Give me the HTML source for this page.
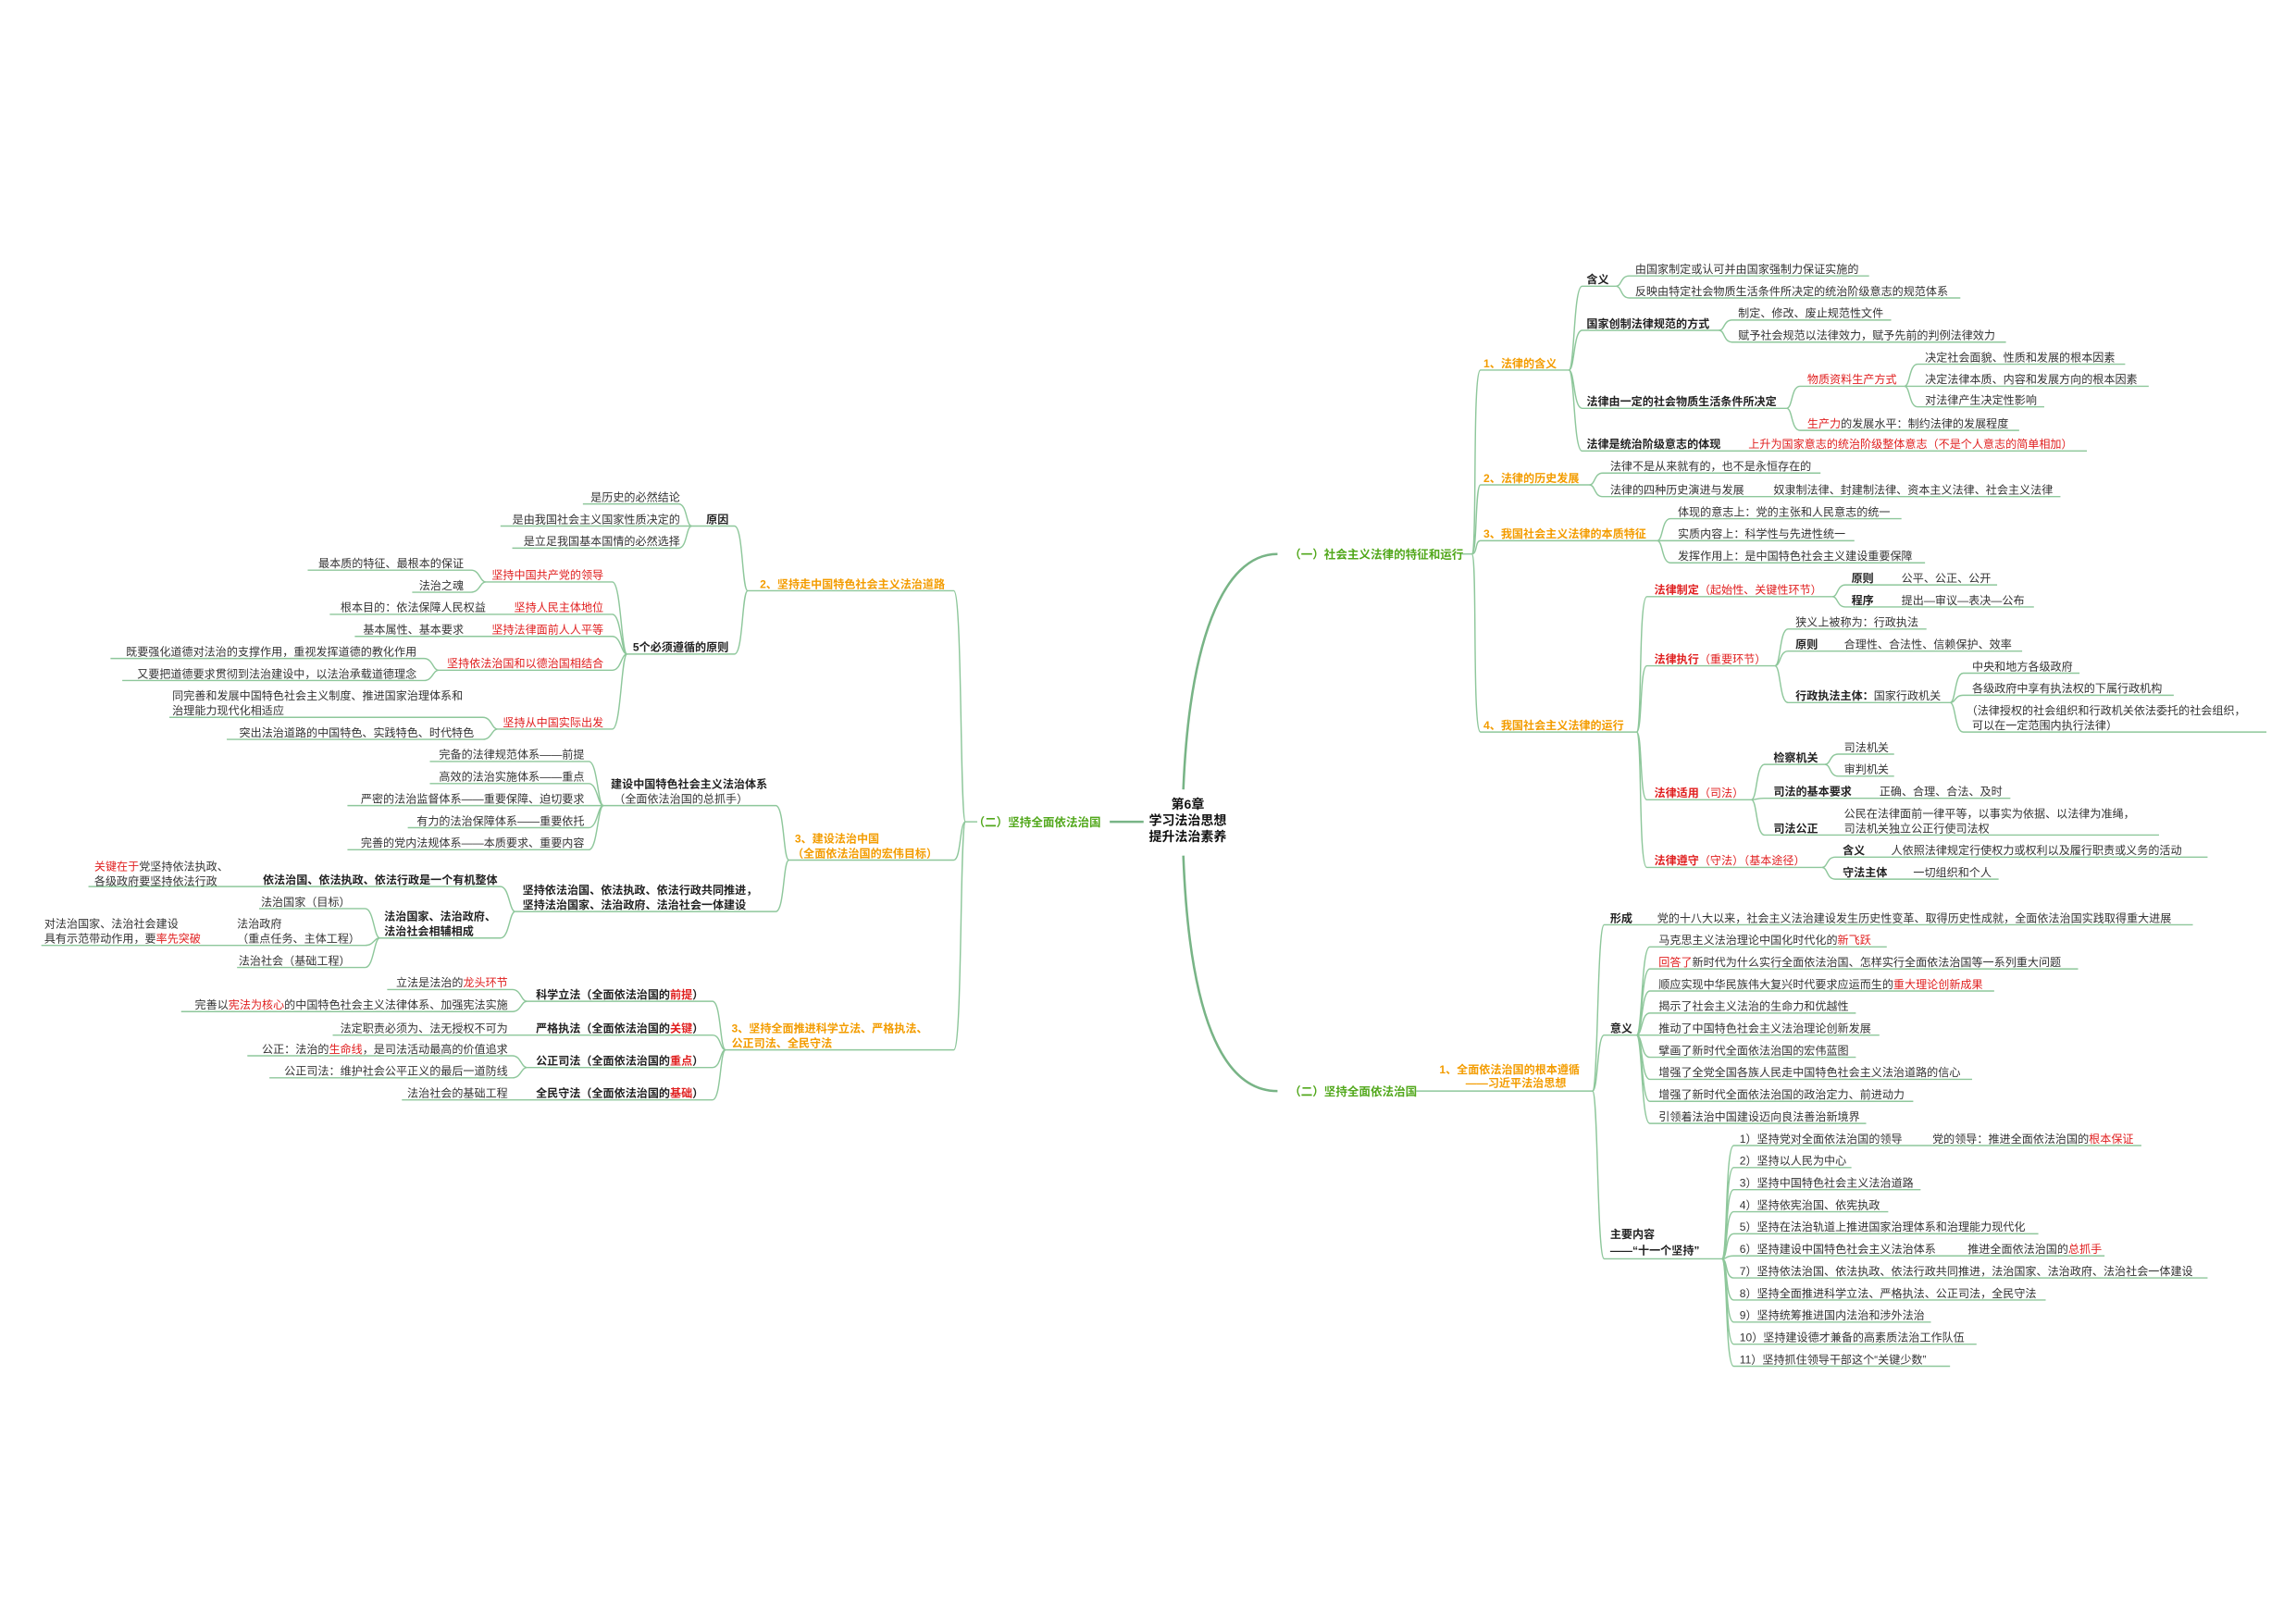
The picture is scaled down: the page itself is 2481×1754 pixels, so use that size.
<!DOCTYPE html>
<html><head><meta charset="utf-8"><style>
html,body{margin:0;padding:0;background:#fff;}
svg{display:block;}
text{font-family:"Liberation Sans","Noto Sans CJK SC",sans-serif;font-size:7.6px;fill:#333;}
.b{font-weight:bold;fill:#222;}
.r{fill:#e02020;}
.rb{fill:#e02020;font-weight:bold;}
.o{fill:#f39c00;font-weight:bold;}
.g{fill:#52a81c;font-weight:bold;font-size:7.9px;}
.c{font-weight:bold;fill:#111;font-size:8.8px;}
path{fill:none;stroke:#8ec79b;stroke-width:0.9;}
.t{stroke:#78b486;stroke-width:1.6;}
</style></head><body>
<svg width="2481" height="1754" viewBox="0 0 1560 1103" xmlns="http://www.w3.org/2000/svg">
<g transform="translate(0,-1.5)">
<!-- center -->
<text class="c" x="807" y="551" text-anchor="middle">第6章</text>
<text class="c" x="807" y="562" text-anchor="middle">学习法治思想</text>
<text class="c" x="807" y="573" text-anchor="middle">提升法治素养</text>
<path class="t" d="M804 538 C808 440 830 378 868 378"/>
<path class="t" d="M804 583 C808 690 830 743 868 743"/>
<path class="t" d="M754 560 H777"/>

<!-- ===== RIGHT (一) ===== -->
<text class="g" x="876" y="381">（一）社会主义法律的特征和运行</text>
<path d="M993 378 H1000"/>
<path d="M1000 378 C1004 378 1000 253 1006 253 H1066"/>
<path d="M1000 378 C1004 378 1002 331 1006 331 H1080"/>
<path d="M1000 378 C1004 378 1002 369 1006 369 H1126"/>
<path d="M1000 378 C1004 378 1000 499 1006 499 H1112"/>
<text class="o" x="1008" y="251">1、法律的含义</text>
<text class="o" x="1008" y="329">2、法律的历史发展</text>
<text class="o" x="1008" y="367">3、我国社会主义法律的本质特征</text>
<text class="o" x="1008" y="497">4、我国社会主义法律的运行</text>

<path d="M1066 253 C1070 253 1069 196 1075 196 H1098"/>
<path d="M1066 253 C1070 253 1069 226 1075 226 H1168"/>
<path d="M1066 253 C1070 253 1069 279 1075 279 H1214"/>
<path d="M1066 253 C1070 253 1069 308 1075 308 H1418"/>
<text class="b" x="1078" y="194">含义</text>
<path d="M1098 196 C1102 196 1101 189 1107 189 H1270"/>
<path d="M1098 196 C1102 196 1101 204 1107 204 H1332"/>
<text x="1111" y="187">由国家制定或认可并由国家强制力保证实施的</text>
<text x="1111" y="202">反映由特定社会物质生活条件所决定的统治阶级意志的规范体系</text>
<text class="b" x="1078" y="224">国家创制法律规范的方式</text>
<path d="M1168 226 C1172 226 1171 219 1177 219 H1285"/>
<path d="M1168 226 C1172 226 1171 234 1177 234 H1363"/>
<text x="1181" y="217">制定、修改、废止规范性文件</text>
<text x="1181" y="232">赋予社会规范以法律效力，赋予先前的判例法律效力</text>
<text class="b" x="1078" y="277">法律由一定的社会物质生活条件所决定</text>
<path d="M1214 279 C1218 279 1217 264 1223 264 H1294"/>
<path d="M1214 279 C1218 279 1217 294 1223 294 H1372"/>
<text class="r" x="1228" y="262">物质资料生产方式</text>
<text x="1228" y="292"><tspan class="r">生产力</tspan>的发展水平：制约法律的发展程度</text>
<path d="M1294 264 C1298 264 1297 249 1303 249 H1444"/>
<path d="M1294 264 C1298 264 1297 264 1303 264 H1460"/>
<path d="M1294 264 C1298 264 1297 278 1303 278 H1389"/>
<text x="1308" y="247">决定社会面貌、性质和发展的根本因素</text>
<text x="1308" y="262">决定法律本质、内容和发展方向的根本因素</text>
<text x="1308" y="276">对法律产生决定性影响</text>
<text class="b" x="1078" y="306">法律是统治阶级意志的体现</text>
<text class="r" x="1188" y="306">上升为国家意志的统治阶级整体意志（不是个人意志的简单相加）</text>

<path d="M1080 331 C1084 331 1083 323 1089 323 H1237"/>
<path d="M1080 331 C1084 331 1083 339 1089 339 H1400"/>
<text x="1094" y="321">法律不是从来就有的，也不是永恒存在的</text>
<text x="1094" y="337">法律的四种历史演进与发展</text>
<text x="1205" y="337">奴隶制法律、封建制法律、资本主义法律、社会主义法律</text>

<path d="M1126 369 C1130 369 1129 354 1135 354 H1292"/>
<path d="M1126 369 C1130 369 1129 369 1135 369 H1260"/>
<path d="M1126 369 C1130 369 1129 384 1135 384 H1308"/>
<text x="1140" y="352">体现的意志上：党的主张和人民意志的统一</text>
<text x="1140" y="367">实质内容上：科学性与先进性统一</text>
<text x="1140" y="382">发挥作用上：是中国特色社会主义建设重要保障</text>

<path d="M1112 499 C1116 499 1113 407 1119 407 H1245"/>
<path d="M1112 499 C1116 499 1114 454 1119 454 H1206"/>
<path d="M1112 499 C1116 499 1114 545 1119 545 H1190"/>
<path d="M1112 499 C1116 499 1113 591 1119 591 H1238"/>
<text class="r" x="1124" y="405"><tspan class="rb">法律制定</tspan>（起始性、关键性环节）</text>
<text class="r" x="1124" y="452"><tspan class="rb">法律执行</tspan>（重要环节）</text>
<text class="r" x="1124" y="543"><tspan class="rb">法律适用</tspan>（司法）</text>
<text class="r" x="1124" y="589"><tspan class="rb">法律遵守</tspan>（守法）（基本途径）</text>

<path d="M1245 407 C1249 407 1248 399 1254 399 H1357"/>
<path d="M1245 407 C1249 407 1248 414 1254 414 H1382"/>
<text class="b" x="1258" y="397">原则</text><text x="1292" y="397">公平、公正、公开</text>
<text class="b" x="1258" y="412">程序</text><text x="1292" y="412">提出—审议—表决—公布</text>

<path d="M1206 454 C1210 454 1209 429 1215 429 H1309"/>
<path d="M1206 454 C1210 454 1209 444 1215 444 H1374"/>
<path d="M1206 454 C1210 454 1209 479 1215 479 H1325"/>
<text x="1220" y="427">狭义上被称为：行政执法</text>
<text class="b" x="1220" y="442">原则</text><text x="1253" y="442">合理性、合法性、信赖保护、效率</text>
<text x="1220" y="477"><tspan class="b">行政执法主体：</tspan>国家行政机关</text>
<path d="M1325 479 C1329 479 1328 459 1334 459 H1413"/>
<path d="M1325 479 C1329 479 1328 474 1334 474 H1477"/>
<path d="M1325 479 C1329 479 1328 499 1334 499 H1540"/>
<text x="1340" y="457">中央和地方各级政府</text>
<text x="1340" y="472">各级政府中享有执法权的下属行政机构</text>
<text x="1336" y="487">（法律授权的社会组织和行政机关依法委托的社会组织，</text>
<text x="1340" y="497">可以在一定范围内执行法律）</text>

<path d="M1190 545 C1194 545 1193 521 1199 521 H1240"/>
<path d="M1190 545 C1194 545 1193 544 1199 544 H1366"/>
<path d="M1190 545 C1194 545 1193 569 1199 569 H1467"/>
<text class="b" x="1205" y="519">检察机关</text>
<path d="M1240 521 C1244 521 1243 514 1249 514 H1287"/>
<path d="M1240 521 C1244 521 1243 529 1249 529 H1287"/>
<text x="1253" y="512">司法机关</text>
<text x="1253" y="527">审判机关</text>
<text class="b" x="1205" y="542">司法的基本要求</text><text x="1277" y="542">正确、合理、合法、及时</text>
<text class="b" x="1205" y="567">司法公正</text>
<text x="1253" y="557">公民在法律面前一律平等，以事实为依据、以法律为准绳，</text>
<text x="1253" y="567">司法机关独立公正行使司法权</text>

<path d="M1238 591 C1242 591 1241 584 1247 584 H1500"/>
<path d="M1238 591 C1242 591 1241 599 1247 599 H1358"/>
<text class="b" x="1252" y="582">含义</text><text x="1285" y="582">人依照法律规定行使权力或权利以及履行职责或义务的活动</text>
<text class="b" x="1252" y="597">守法主体</text><text x="1300" y="597">一切组织和个人</text>

<!-- ===== RIGHT (二) ===== -->
<text class="g" x="876" y="746">（二）坚持全面依法治国</text>
<path d="M962 743 H1082"/>
<text class="o" x="978" y="731">1、全面依法治国的根本遵循</text>
<text class="o" x="1030" y="740" text-anchor="middle">——习近平法治思想</text>
<path d="M1082 743 C1086 743 1085 630 1090 630 H1490"/>
<path d="M1082 743 C1086 743 1085 705 1090 705 H1112"/>
<path d="M1082 743 C1086 743 1085 857 1090 857 H1170"/>
<text class="b" x="1094" y="628">形成</text>
<text x="1126" y="628">党的十八大以来，社会主义法治建设发生历史性变革、取得历史性成就，全面依法治国实践取得重大进展</text>
<text class="b" x="1094" y="703">意义</text>
<path d="M1112 705 C1116 705 1115 645 1121 645 H1282"/>
<path d="M1112 705 C1116 705 1115 660 1121 660 H1412"/>
<path d="M1112 705 C1116 705 1115 675 1121 675 H1355"/>
<path d="M1112 705 C1116 705 1115 690 1121 690 H1261"/>
<path d="M1112 705 C1116 705 1115 705 1121 705 H1277"/>
<path d="M1112 705 C1116 705 1115 720 1121 720 H1261"/>
<path d="M1112 705 C1116 705 1115 735 1121 735 H1340"/>
<path d="M1112 705 C1116 705 1115 750 1121 750 H1300"/>
<path d="M1112 705 C1116 705 1115 765 1121 765 H1268"/>
<text x="1127" y="643">马克思主义法治理论中国化时代化的<tspan class="r">新飞跃</tspan></text>
<text x="1127" y="658"><tspan class="r">回答了</tspan>新时代为什么实行全面依法治国、怎样实行全面依法治国等一系列重大问题</text>
<text x="1127" y="673">顺应实现中华民族伟大复兴时代要求应运而生的<tspan class="r">重大理论创新成果</tspan></text>
<text x="1127" y="688">揭示了社会主义法治的生命力和优越性</text>
<text x="1127" y="703">推动了中国特色社会主义法治理论创新发展</text>
<text x="1127" y="718">擘画了新时代全面依法治国的宏伟蓝图</text>
<text x="1127" y="733">增强了全党全国各族人民走中国特色社会主义法治道路的信心</text>
<text x="1127" y="748">增强了新时代全面依法治国的政治定力、前进动力</text>
<text x="1127" y="763">引领着法治中国建设迈向良法善治新境界</text>
<text class="b" x="1094" y="843">主要内容</text>
<text class="b" x="1094" y="854">——“十一个坚持”</text>
<path d="M1170 857 C1174 857 1172 780 1178 780 H1455"/>
<path d="M1170 857 C1174 857 1172 795 1178 795 H1258"/>
<path d="M1170 857 C1174 857 1172 810 1178 810 H1305"/>
<path d="M1170 857 C1174 857 1172 825 1178 825 H1283"/>
<path d="M1170 857 C1174 857 1172 840 1178 840 H1385"/>
<path d="M1170 857 C1174 857 1172 855 1178 855 H1430"/>
<path d="M1170 857 C1174 857 1172 870 1178 870 H1500"/>
<path d="M1170 857 C1174 857 1172 885 1178 885 H1390"/>
<path d="M1170 857 C1174 857 1172 900 1178 900 H1312"/>
<path d="M1170 857 C1174 857 1172 915 1178 915 H1343"/>
<path d="M1170 857 C1174 857 1172 930 1178 930 H1325"/>
<text x="1182" y="778">1）坚持党对全面依法治国的领导</text><text x="1313" y="778">党的领导：推进全面依法治国的<tspan class="r">根本保证</tspan></text>
<text x="1182" y="793">2）坚持以人民为中心</text>
<text x="1182" y="808">3）坚持中国特色社会主义法治道路</text>
<text x="1182" y="823">4）坚持依宪治国、依宪执政</text>
<text x="1182" y="838">5）坚持在法治轨道上推进国家治理体系和治理能力现代化</text>
<text x="1182" y="853">6）坚持建设中国特色社会主义法治体系</text><text x="1337" y="853">推进全面依法治国的<tspan class="r">总抓手</tspan></text>
<text x="1182" y="868">7）坚持依法治国、依法执政、依法行政共同推进，法治国家、法治政府、法治社会一体建设</text>
<text x="1182" y="883">8）坚持全面推进科学立法、严格执法、公正司法，全民守法</text>
<text x="1182" y="898">9）坚持统筹推进国内法治和涉外法治</text>
<text x="1182" y="913">10）坚持建设德才兼备的高素质法治工作队伍</text>
<text x="1182" y="928">11）坚持抓住领导干部这个“关键少数”</text>

<!-- ===== LEFT (二) ===== -->
<text class="g" x="748" y="563" text-anchor="end">（二）坚持全面依法治国</text>
<path d="M664 560 H656"/>
<path d="M656 560 C652 560 654 403 648 403 H508"/>
<path d="M656 560 C652 560 653 586 648 586 H536"/>
<path d="M656 560 C652 560 654 715 648 715 H493"/>
<text class="o" x="642" y="401" text-anchor="end">2、坚持走中国特色社会主义法治道路</text>
<text class="o" x="540" y="574">3、建设法治中国</text>
<text class="o" x="637" y="584" text-anchor="end">（全面依法治国的宏伟目标）</text>
<text class="o" x="497" y="703">3、坚持全面推进科学立法、严格执法、</text>
<text class="o" x="497" y="713">公正司法、全民守法</text>

<path d="M508 403 C504 403 505 359 499 359 H470"/>
<path d="M508 403 C504 403 505 446 499 446 H426"/>
<text class="b" x="495" y="357" text-anchor="end">原因</text>
<path d="M470 359 C466 359 467 344 461 344 H396"/>
<path d="M470 359 C466 359 467 359 461 359 H340"/>
<path d="M470 359 C466 359 467 374 461 374 H348"/>
<text x="462" y="342" text-anchor="end">是历史的必然结论</text>
<text x="462" y="357" text-anchor="end">是由我国社会主义国家性质决定的</text>
<text x="462" y="372" text-anchor="end">是立足我国基本国情的必然选择</text>
<text class="b" x="495" y="444" text-anchor="end">5个必须遵循的原则</text>
<path d="M426 446 C422 446 422 397 416 397 H330"/>
<path d="M426 446 C422 446 422 419 416 419 H224"/>
<path d="M426 446 C422 446 422 434 416 434 H241"/>
<path d="M426 446 C422 446 422 457 416 457 H298"/>
<path d="M426 446 C422 446 422 497 416 497 H338"/>
<text class="r" x="410" y="395" text-anchor="end">坚持中国共产党的领导</text>
<text class="r" x="410" y="417" text-anchor="end">坚持人民主体地位</text>
<text class="r" x="410" y="432" text-anchor="end">坚持法律面前人人平等</text>
<text class="r" x="410" y="455" text-anchor="end">坚持依法治国和以德治国相结合</text>
<text class="r" x="410" y="495" text-anchor="end">坚持从中国实际出发</text>
<path d="M330 397 C326 397 326 389 320 389 H209"/>
<path d="M330 397 C326 397 326 404 320 404 H280"/>
<text x="315" y="387" text-anchor="end">最本质的特征、最根本的保证</text>
<text x="315" y="402" text-anchor="end">法治之魂</text>
<text x="330" y="417" text-anchor="end">根本目的：依法保障人民权益</text>
<text x="315" y="432" text-anchor="end">基本属性、基本要求</text>
<path d="M298 457 C294 457 294 449 288 449 H75"/>
<path d="M298 457 C294 457 294 464 288 464 H83"/>
<text x="283" y="447" text-anchor="end">既要强化道德对法治的支撑作用，重视发挥道德的教化作用</text>
<text x="283" y="462" text-anchor="end">又要把道德要求贯彻到法治建设中，以法治承载道德理念</text>
<path d="M338 497 C334 497 334 489 328 489 H115"/>
<path d="M338 497 C334 497 334 504 328 504 H154"/>
<text x="117" y="477">同完善和发展中国特色社会主义制度、推进国家治理体系和</text>
<text x="117" y="487">治理能力现代化相适应</text>
<text x="322" y="502" text-anchor="end">突出法治道路的中国特色、实践特色、时代特色</text>

<path d="M536 586 C532 586 533 549 527 549 H410"/>
<path d="M536 586 C532 586 533 621 527 621 H350"/>
<text class="b" x="415" y="537">建设中国特色社会主义法治体系</text>
<text x="417" y="547">（全面依法治国的总抓手）</text>
<path d="M410 549 C406 549 406 519 400 519 H292"/>
<path d="M410 549 C406 549 406 534 400 534 H292"/>
<path d="M410 549 C406 549 406 549 400 549 H236"/>
<path d="M410 549 C406 549 406 564 400 564 H277"/>
<path d="M410 549 C406 549 406 579 400 579 H236"/>
<text x="397" y="517" text-anchor="end">完备的法律规范体系——前提</text>
<text x="397" y="532" text-anchor="end">高效的法治实施体系——重点</text>
<text x="397" y="547" text-anchor="end">严密的法治监督体系——重要保障、迫切要求</text>
<text x="397" y="562" text-anchor="end">有力的法治保障体系——重要依托</text>
<text x="397" y="577" text-anchor="end">完善的党内法规体系——本质要求、重要内容</text>
<text class="b" x="355" y="609">坚持依法治国、依法执政、依法行政共同推进，</text>
<text class="b" x="355" y="619">坚持法治国家、法治政府、法治社会一体建设</text>
<path d="M350 621 C346 621 346 604 340 604 H60"/>
<path d="M350 621 C346 621 346 639 340 639 H258"/>
<text class="b" x="338" y="602" text-anchor="end">依法治国、依法执政、依法行政是一个有机整体</text>
<text x="64" y="593"><tspan class="r">关键在于</tspan>党坚持依法执政、</text>
<text x="64" y="603">各级政府要坚持依法行政</text>
<text class="b" x="261" y="627">法治国家、法治政府、</text>
<text class="b" x="261" y="637">法治社会相辅相成</text>
<path d="M258 639 C254 639 254 619 248 619 H176"/>
<path d="M258 639 C254 639 254 644 248 644 H28"/>
<path d="M258 639 C254 639 254 659 248 659 H161"/>
<text x="238" y="617" text-anchor="end">法治国家（目标）</text>
<text x="161" y="632">法治政府</text>
<text x="161" y="642">（重点任务、主体工程）</text>
<text x="30" y="632">对法治国家、法治社会建设</text>
<text x="30" y="642">具有示范带动作用，要<tspan class="r">率先突破</tspan></text>
<text x="238" y="657" text-anchor="end">法治社会（基础工程）</text>

<path d="M493 715 C489 715 490 682 484 682 H358"/>
<path d="M493 715 C489 715 490 705 484 705 H226"/>
<path d="M493 715 C489 715 490 727 484 727 H358"/>
<path d="M493 715 C489 715 490 749 484 749 H273"/>
<text class="b" x="478" y="680" text-anchor="end">科学立法（全面依法治国的<tspan class="rb">前提</tspan>）</text>
<text class="b" x="478" y="703" text-anchor="end">严格执法（全面依法治国的<tspan class="rb">关键</tspan>）</text>
<text class="b" x="478" y="725" text-anchor="end">公正司法（全面依法治国的<tspan class="rb">重点</tspan>）</text>
<text class="b" x="478" y="747" text-anchor="end">全民守法（全面依法治国的<tspan class="rb">基础</tspan>）</text>
<path d="M358 682 C354 682 354 674 348 674 H263"/>
<path d="M358 682 C354 682 354 689 348 689 H123"/>
<text x="345" y="672" text-anchor="end">立法是法治的<tspan class="r">龙头环节</tspan></text>
<text x="345" y="687" text-anchor="end">完善以<tspan class="r">宪法为核心</tspan>的中国特色社会主义法律体系、加强宪法实施</text>
<text x="345" y="703" text-anchor="end">法定职责必须为、法无授权不可为</text>
<path d="M358 727 C354 727 354 719 348 719 H168"/>
<path d="M358 727 C354 727 354 734 348 734 H183"/>
<text x="345" y="717" text-anchor="end">公正：法治的<tspan class="r">生命线</tspan>，是司法活动最高的价值追求</text>
<text x="345" y="732" text-anchor="end">公正司法：维护社会公平正义的最后一道防线</text>
<text x="345" y="747" text-anchor="end">法治社会的基础工程</text>
</g>
</svg>
</body></html>
